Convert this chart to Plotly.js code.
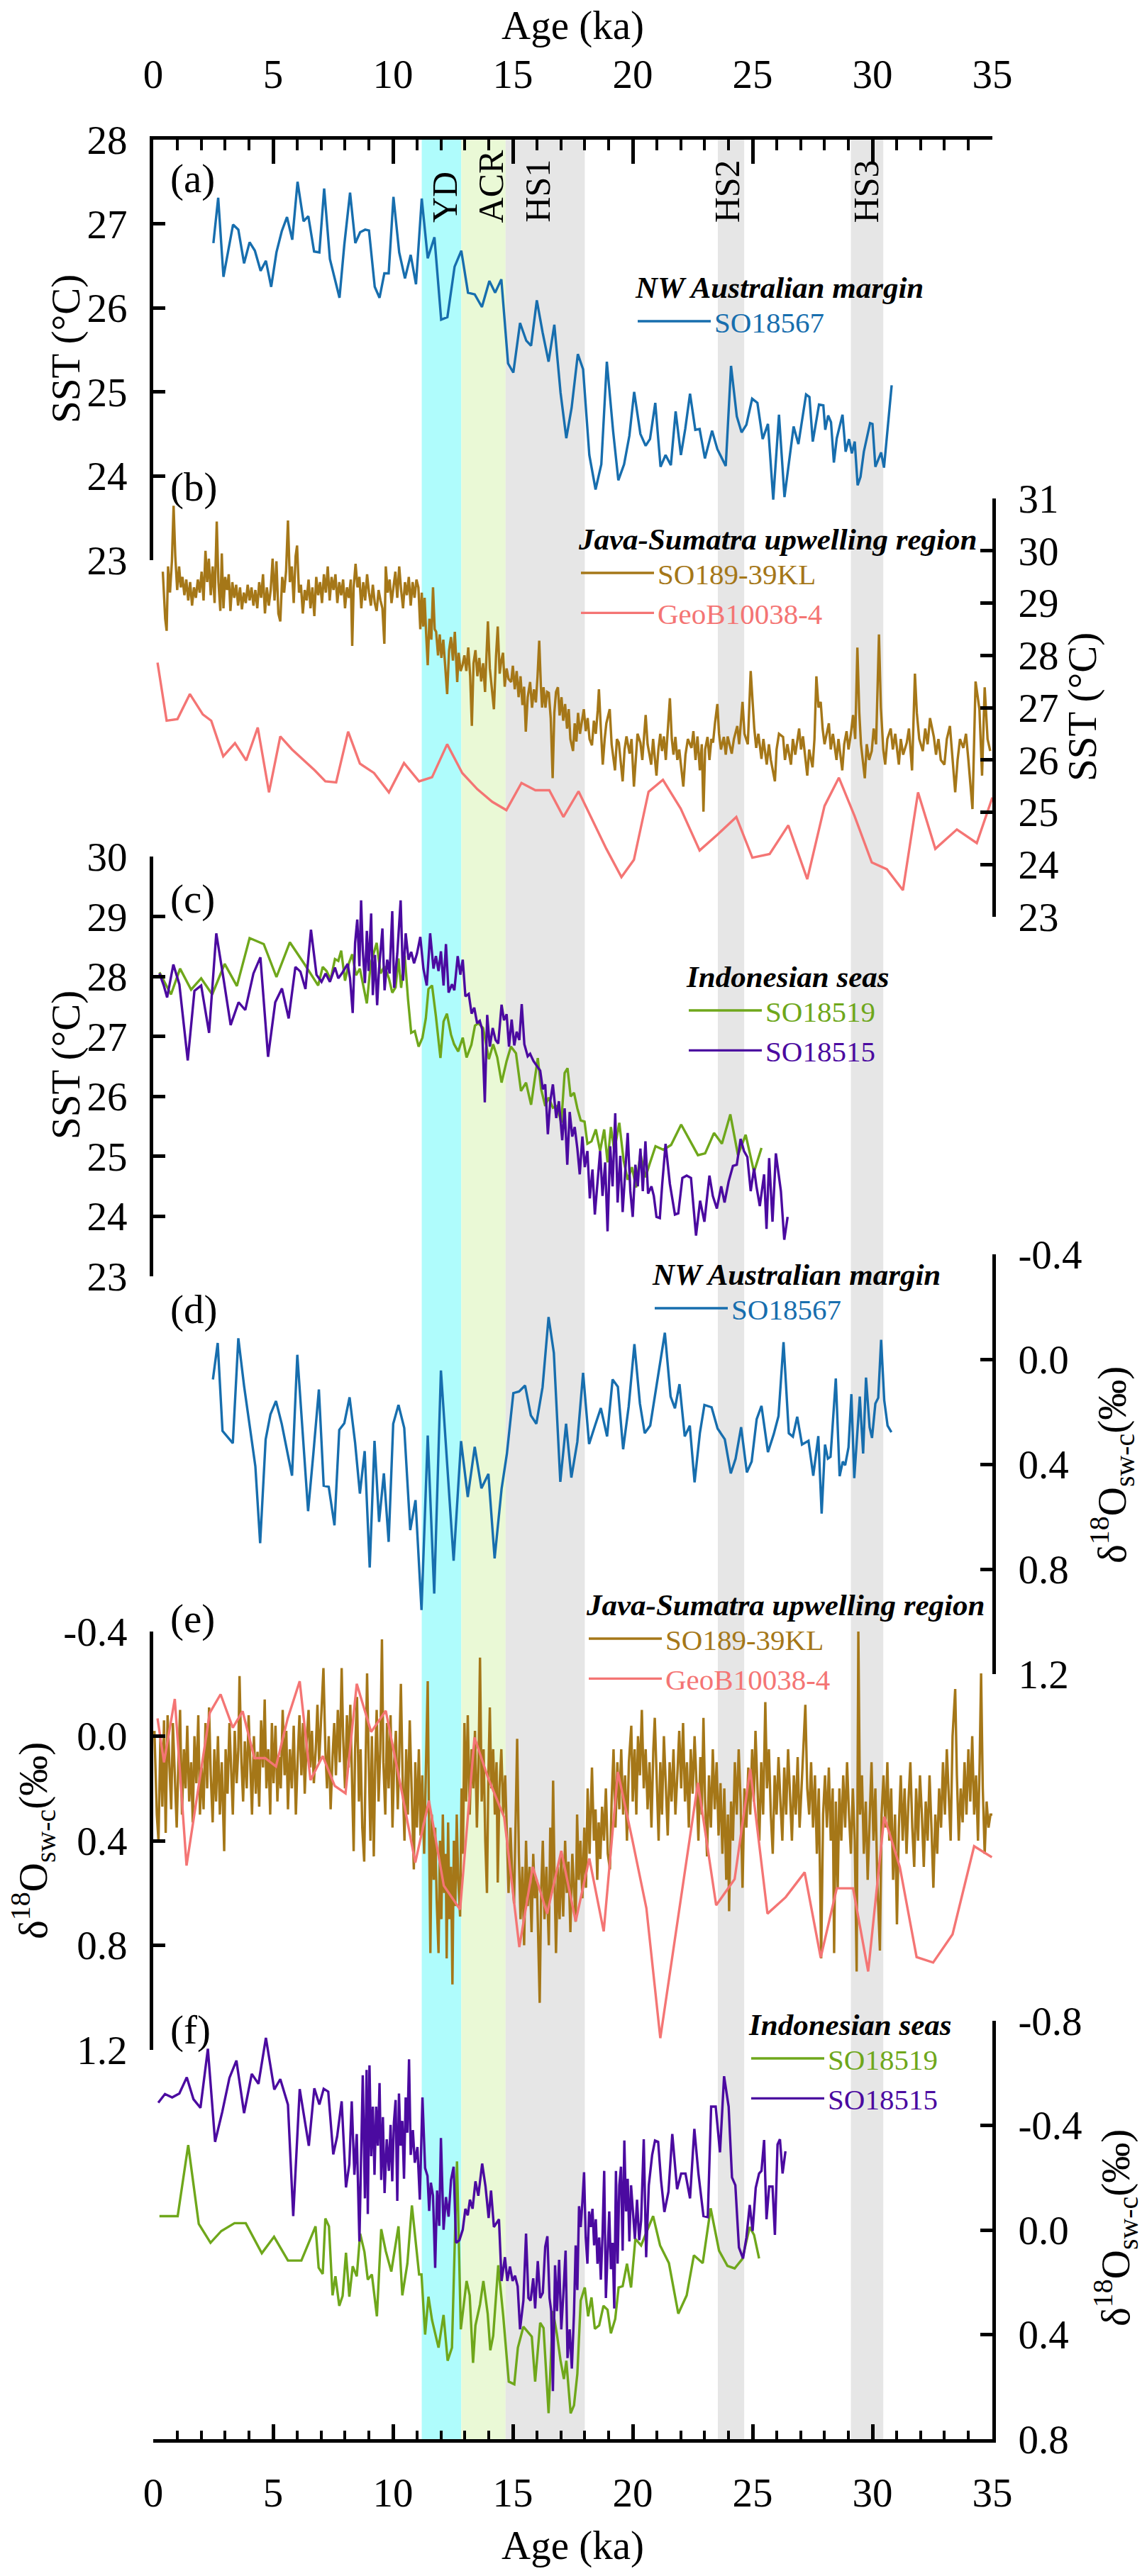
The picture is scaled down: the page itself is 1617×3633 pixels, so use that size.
<!DOCTYPE html>
<html><head><meta charset="utf-8">
<script src="https://cdn.plot.ly/plotly-3.0.1.min.js"></script>
<style>html,body{margin:0;padding:0;background:#fff}#chart{width:1617px;height:3633px}</style>
</head><body><div id="chart"></div>
<script>
// ---------------- DATA ----------------
// Event intervals (ka)
const eventNames = ['YD','ACR','HS1','HS2','HS3'];
const eventStart = [11.2, 12.85, 14.7, 23.55, 29.1];
const eventEnd   = [12.85, 14.7, 18.0, 24.65, 30.45];
const eventLabelAge = [12.16, 14.11, 16.04, 23.96, 29.76];

// (a) SO18567 SST
const a_age = [2.51,2.71,2.93,3.33,3.55,3.79,4.02,4.24,4.48,4.70,4.92,5.14,5.36,5.58,5.80,6.02,6.27,6.47,6.71,6.93,7.13,7.37,7.77,7.97,8.21,8.43,8.63,8.84,9.00,9.24,9.44,9.64,9.82,10.02,10.26,10.50,10.74,10.96,11.20,11.45,11.73,12.01,12.27,12.57,12.85,13.13,13.41,13.71,14.02,14.26,14.52,14.80,15.02,15.30,15.56,15.76,16.00,16.24,16.49,16.73,16.99,17.23,17.45,17.71,17.93,18.19,18.45,18.69,18.92,19.18,19.40,19.64,19.86,20.06,20.32,20.54,20.72,20.94,21.16,21.37,21.59,21.79,22.01,22.19,22.39,22.61,22.79,23.01,23.31,23.53,23.88,24.10,24.34,24.54,24.74,24.98,25.20,25.42,25.64,25.86,26.10,26.33,26.71,26.91,27.23,27.37,27.51,27.77,27.95,28.03,28.15,28.27,28.39,28.51,28.75,28.88,29.02,29.14,29.26,29.38,29.50,29.64,29.90,30.00,30.12,30.36,30.48,30.80];
const a_sst = [26.77,27.31,26.37,26.99,26.93,26.53,26.78,26.68,26.44,26.56,26.25,26.66,26.91,27.08,26.81,27.50,27.03,27.09,26.67,26.66,27.42,26.58,26.12,26.75,27.37,26.77,26.90,26.93,26.92,26.25,26.12,26.41,26.41,27.32,26.66,26.35,26.63,26.28,27.30,26.59,26.84,25.86,25.89,26.49,26.68,26.18,26.16,26.01,26.32,26.18,26.34,25.34,25.23,25.82,25.61,25.55,26.09,25.71,25.36,25.80,24.99,24.45,24.81,25.45,25.27,24.25,23.84,24.14,25.36,24.54,23.95,24.14,24.48,25.00,24.50,24.36,24.44,24.87,24.11,24.25,24.13,24.77,24.25,24.56,24.98,24.55,24.56,24.21,24.54,24.32,24.12,25.31,24.71,24.52,24.61,24.92,24.87,24.44,24.62,23.72,24.73,23.75,24.59,24.38,24.97,24.94,24.41,24.85,24.84,24.55,24.72,24.64,24.16,24.45,24.73,24.29,24.44,24.27,24.41,23.89,23.99,24.29,24.63,24.62,24.11,24.28,24.10,25.08];

// (b) SO189-39KL SST
const b_age = [0.40,0.50,0.56,0.62,0.70,0.78,0.85,0.92,1.00,1.08,
1.15,1.22,1.30,1.38,1.46,1.54,1.62,1.70,1.78,1.86,
1.94,2.02,2.10,2.18,2.25,2.32,2.40,2.48,2.56,2.65,
2.72,2.80,2.86,2.93,3.00,3.08,3.15,3.22,3.30,3.38,
3.46,3.54,3.62,3.70,3.78,3.86,3.94,4.02,4.10,4.18,
4.26,4.34,4.42,4.50,4.58,4.66,4.74,4.82,4.90,4.98,
5.06,5.14,5.22,5.30,5.38,5.46,5.54,5.62,5.70,5.78,
5.86,5.94,6.00,6.08,6.16,6.24,6.32,6.40,6.48,6.56,
6.64,6.72,6.80,6.88,6.96,7.04,7.12,7.20,7.28,7.36,
7.44,7.52,7.60,7.68,7.76,7.84,7.92,8.00,8.08,8.16,
8.24,8.30,8.36,8.44,8.52,8.60,8.68,8.76,8.84,8.92,
9.00,9.08,9.16,9.24,9.32,9.40,9.48,9.56,9.64,9.70,
9.78,9.86,9.94,10.02,10.10,10.18,10.26,10.34,10.42,10.50,
10.58,10.66,10.74,10.82,10.90,10.98,11.06,11.14,11.20,11.26,
11.32,11.38,11.45,11.52,11.60,11.67,11.74,11.80,11.88,11.95,
12.02,12.10,12.18,12.26,12.34,12.42,12.50,12.58,12.68,12.74,
12.82,12.90,12.98,13.06,13.14,13.22,13.29,13.36,13.44,13.52,
13.60,13.68,13.76,13.84,13.90,13.96,14.04,14.12,14.21,14.30,
14.37,14.45,14.52,14.59,14.66,14.74,14.82,14.93,15.00,15.08,
15.16,15.24,15.32,15.40,15.47,15.54,15.62,15.72,15.80,15.88,
15.96,16.03,16.10,16.17,16.22,16.28,16.36,16.43,16.50,16.58,
16.66,16.73,16.80,16.88,16.95,17.03,17.10,17.18,17.26,17.33,
17.40,17.51,17.58,17.65,17.72,17.80,17.88,17.96,18.04,18.12,
18.20,18.30,18.38,18.46,18.54,18.59,18.67,18.75,18.83,18.90,
19.04,19.12,19.26,19.34,19.42,19.50,19.58,19.66,19.74,19.87,
19.95,20.05,20.13,20.20,20.32,20.40,20.54,20.62,20.70,20.77,
20.85,20.99,21.07,21.15,21.22,21.30,21.38,21.47,21.55,21.63,
21.70,21.78,21.86,21.94,22.11,22.20,22.30,22.45,22.53,22.62,
22.70,22.80,22.88,22.95,23.02,23.12,23.20,23.28,23.35,23.43,
23.53,23.60,23.68,23.80,23.88,23.96,24.13,24.22,24.36,24.44,
24.58,24.66,24.80,24.92,25.00,25.07,25.15,25.24,25.37,25.45,
25.59,25.68,25.76,25.93,26.00,26.10,26.27,26.35,26.45,26.60,
26.68,26.78,26.94,27.02,27.10,27.28,27.36,27.50,27.58,27.66,
27.75,27.84,27.92,28.00,28.18,28.26,28.35,28.50,28.58,28.74,
28.82,28.92,29.00,29.10,29.19,29.28,29.37,29.45,29.52,29.68,
29.76,29.86,29.97,30.05,30.15,30.27,30.35,30.45,30.53,30.62,
30.76,30.85,30.95,31.10,31.18,31.28,31.43,31.52,31.65,31.77,
31.85,31.95,32.10,32.20,32.30,32.40,32.56,32.65,32.75,32.85,
33.00,33.10,33.23,33.33,33.45,33.55,33.65,33.79,33.90,34.00,
34.17,34.30,34.46,34.57,34.68,34.80,34.91];
const b_sst = [29.60,28.70,28.47,29.70,29.20,29.80,30.86,29.90,29.25,29.70,
29.30,29.50,29.15,29.45,29.05,29.40,28.95,29.30,29.10,29.45,
29.20,29.60,29.05,30.00,29.40,29.85,29.15,29.70,29.00,30.56,
29.40,28.85,29.95,28.90,29.50,29.25,29.55,28.85,29.40,29.10,
29.35,28.95,29.30,28.88,29.20,29.00,29.35,29.05,29.30,28.95,
29.25,28.90,29.40,29.10,29.55,28.80,29.30,28.95,29.25,29.85,
29.05,29.80,28.80,28.65,29.50,29.20,29.60,30.58,29.40,29.70,
29.00,29.90,30.10,29.20,29.35,28.80,29.25,29.05,29.45,28.90,
29.30,28.75,29.50,29.15,29.40,29.00,29.55,29.20,29.70,29.05,
29.50,29.25,29.55,29.00,29.40,29.15,29.45,28.90,29.30,29.10,
29.45,28.18,29.30,29.75,29.30,29.50,28.90,29.40,29.05,29.55,
29.20,28.95,29.35,29.00,28.85,29.25,29.05,28.90,28.22,29.70,
29.20,29.45,29.00,29.35,29.60,29.10,29.70,29.25,28.90,29.40,
29.15,29.50,28.95,29.40,29.10,29.45,29.30,28.50,29.20,28.55,
29.10,28.45,27.81,28.70,28.30,29.30,28.50,28.45,28.00,28.40,
27.95,28.30,27.80,27.26,28.10,28.35,27.90,28.45,27.49,28.05,
27.70,27.81,28.00,27.70,28.15,27.60,26.65,27.85,28.10,27.60,
27.95,27.50,27.85,27.30,28.00,28.65,27.75,27.40,26.97,28.00,
28.55,27.65,27.90,28.05,27.40,27.75,27.55,27.49,27.80,27.35,
27.70,27.20,27.60,27.05,27.40,26.54,27.20,27.49,27.00,27.35,
27.10,27.60,28.28,27.40,27.00,27.39,27.00,27.30,27.28,26.80,
25.65,26.90,27.30,27.39,26.85,27.20,26.75,27.07,26.60,26.97,
26.40,26.17,26.70,26.35,26.90,26.50,26.75,26.97,26.55,26.80,
26.40,26.28,26.75,26.50,26.95,27.35,26.60,25.91,26.40,26.70,
26.97,26.30,25.80,26.40,26.33,26.00,25.59,26.20,26.45,26.12,
26.40,25.49,26.10,26.50,26.33,26.00,26.86,26.30,26.10,25.91,
26.40,25.70,26.20,26.50,26.17,26.45,26.00,26.60,27.18,26.40,
26.10,26.44,26.00,26.20,25.49,26.10,26.40,26.23,26.55,26.00,
26.45,25.80,26.30,25.01,26.20,26.44,26.00,26.40,26.33,26.70,
27.07,26.50,26.20,26.44,26.10,26.45,26.12,26.40,26.65,26.30,
27.11,26.50,26.30,27.70,27.00,26.60,26.23,26.50,26.02,26.40,
25.91,26.30,26.00,25.59,26.20,26.50,26.44,26.00,26.30,25.91,
26.40,26.10,26.60,26.20,26.45,25.70,26.20,25.86,26.40,27.60,
27.00,27.11,26.60,26.30,26.70,26.20,26.50,26.00,26.40,25.80,
26.30,26.55,26.20,26.50,26.86,26.40,28.15,26.90,26.30,25.65,
26.30,26.00,26.17,26.60,26.30,28.40,27.00,26.20,25.91,26.40,
26.60,26.20,26.50,25.91,26.40,26.10,26.33,26.60,25.80,27.65,
26.90,26.40,26.17,26.60,26.30,26.80,26.44,26.10,26.40,26.00,
25.91,26.40,26.65,26.10,25.38,26.00,26.40,26.23,26.50,26.00,
25.06,27.50,26.97,25.70,27.39,26.40,26.17];

// (b) GeoB10038-4 SST
const bg_age = [0.18,0.56,1.01,1.53,2.07,2.42,2.92,3.41,3.88,4.36,4.83,5.30,5.79,6.29,6.74,7.18,7.63,8.13,8.62,9.21,9.83,10.46,11.09,11.63,12.26,12.89,13.52,14.14,14.73,15.36,15.94,16.52,17.11,17.74,18.30,18.90,19.53,20.05,20.66,21.26,22.00,22.79,23.53,24.32,24.99,25.71,26.49,27.28,28.00,28.60,29.25,29.97,30.60,31.27,31.90,32.62,33.52,34.35,35.00];
const bg_sst = [27.86,26.75,26.78,27.26,26.87,26.75,26.07,26.32,25.99,26.62,25.38,26.45,26.20,25.99,25.80,25.59,25.57,26.54,25.93,25.75,25.38,25.94,25.59,25.67,26.30,25.75,25.44,25.20,25.04,25.56,25.42,25.42,24.91,25.40,24.87,24.30,23.76,24.09,25.39,25.62,25.07,24.27,24.57,24.91,24.13,24.20,24.75,23.72,25.12,25.66,24.93,24.04,23.91,23.51,25.38,24.30,24.67,24.41,25.28];

// (c) SO18519 SST
const c19_age = [0.26,0.74,1.12,1.58,2.00,2.46,2.98,3.49,4.02,4.61,5.14,5.70,6.32,6.88,7.07,7.23,7.40,7.58,7.72,7.84,8.00,8.16,8.30,8.46,8.62,8.77,8.91,9.07,9.32,9.48,9.65,9.83,9.97,10.11,10.23,10.34,10.49,10.63,10.76,10.91,11.07,11.23,11.37,11.48,11.63,11.79,11.98,12.11,12.25,12.42,12.55,12.72,12.91,13.07,13.27,13.42,13.56,13.76,14.00,14.18,14.35,14.53,14.74,14.92,15.13,15.34,15.55,15.76,15.92,16.04,16.18,16.35,16.49,16.67,16.84,17.02,17.16,17.28,17.41,17.55,17.69,17.83,17.99,18.11,18.28,18.46,18.64,18.81,18.95,19.09,19.23,19.44,19.62,19.79,19.97,20.14,20.32,20.53,20.71,20.95,21.28,21.60,22.02,22.72,23.02,23.39,23.72,24.07,24.39,24.71,25.06,25.37];
const c19_sst = [28.07,27.70,28.13,27.78,27.97,27.70,28.21,27.84,28.64,28.54,27.99,28.57,28.20,27.85,28.16,28.09,27.95,28.29,28.26,28.43,27.93,28.22,28.37,28.02,28.13,27.84,27.55,28.21,28.56,28.05,28.17,27.97,27.73,27.82,28.30,27.81,28.35,27.61,27.06,27.09,26.83,26.98,27.30,27.79,27.85,27.34,26.64,27.25,27.38,27.03,26.87,26.75,26.98,26.65,26.86,27.18,27.22,27.14,26.62,26.87,26.65,26.23,26.59,26.83,26.72,26.09,26.23,25.86,26.28,26.64,26.12,25.84,25.98,25.81,25.84,25.56,26.39,26.47,26.00,26.06,25.80,25.60,25.58,25.21,25.25,25.45,25.09,25.45,24.90,25.49,25.09,25.56,24.93,24.61,24.82,24.48,25.05,24.65,24.88,25.17,25.11,25.19,25.53,25.02,25.05,25.39,25.21,25.70,25.02,25.36,24.74,25.14];

// (c) SO18515 SST
const c15_age = [0.26,0.44,0.58,0.84,1.09,1.44,1.72,2.00,2.33,2.63,2.93,3.23,3.56,3.84,4.18,4.47,4.79,5.09,5.37,5.65,5.93,6.14,6.35,6.58,6.81,7.02,7.19,7.37,7.58,7.72,7.90,8.11,8.21,8.32,8.42,8.51,8.60,8.67,8.74,8.83,8.91,8.98,9.09,9.16,9.25,9.34,9.42,9.56,9.65,9.76,9.86,9.97,10.05,10.18,10.32,10.42,10.53,10.65,10.76,10.88,11.00,11.14,11.27,11.41,11.55,11.69,11.79,11.90,12.00,12.11,12.21,12.32,12.46,12.56,12.70,12.81,12.91,13.02,13.16,13.28,13.39,13.51,13.62,13.72,13.83,13.93,14.04,14.16,14.28,14.39,14.53,14.63,14.74,14.84,14.95,15.06,15.16,15.27,15.37,15.48,15.62,15.72,15.86,16.00,16.14,16.25,16.35,16.46,16.56,16.67,16.81,16.92,17.06,17.16,17.27,17.37,17.48,17.58,17.69,17.79,17.90,18.00,18.11,18.21,18.32,18.42,18.53,18.64,18.74,18.85,18.95,19.06,19.16,19.27,19.37,19.48,19.58,19.69,19.79,19.90,20.00,20.11,20.21,20.32,20.42,20.53,20.64,20.78,20.88,20.99,21.13,21.23,21.37,21.55,21.76,21.90,22.07,22.25,22.43,22.64,22.81,22.99,23.20,23.34,23.51,23.69,23.83,24.00,24.18,24.34,24.50,24.64,24.78,24.92,25.06,25.16,25.30,25.48,25.58,25.69,25.83,25.97,26.07,26.18,26.32,26.46];
const c15_sst = [28.05,27.85,27.65,28.20,27.87,26.60,27.76,27.85,27.06,28.72,27.97,27.19,27.57,27.44,28.05,28.32,26.66,27.57,27.80,27.30,28.16,28.08,27.79,28.78,28.03,27.91,28.05,27.91,28.15,27.97,28.07,28.21,27.97,27.39,28.56,28.95,28.17,29.27,28.44,27.89,28.76,28.09,29.05,27.69,28.36,27.52,28.13,28.80,27.77,28.28,28.05,29.09,27.81,28.38,29.27,27.93,28.72,28.28,28.41,28.22,28.38,28.66,28.13,27.85,28.72,28.13,28.34,28.09,28.42,27.85,28.54,27.73,27.87,27.77,28.34,28.03,28.28,27.67,27.71,27.38,27.48,27.22,27.26,27.12,25.90,27.36,26.83,27.14,26.94,26.88,27.53,27.27,27.37,26.83,27.28,26.85,27.08,26.94,27.54,26.87,26.67,26.71,26.59,26.51,26.43,26.12,26.20,25.37,25.92,26.20,25.64,25.92,25.27,25.80,24.86,25.74,25.33,25.49,25.13,24.70,25.33,24.82,25.09,24.30,24.78,24.03,24.62,25.09,24.34,24.90,23.75,25.17,24.50,25.72,24.23,25.01,24.07,24.74,25.39,24.42,23.99,24.86,24.50,25.13,24.42,25.25,24.38,24.50,24.34,23.99,23.97,24.54,25.21,24.54,24.03,24.05,24.64,24.68,24.64,23.68,24.26,23.91,24.68,24.34,24.13,24.50,24.23,24.58,24.84,24.86,25.29,25.09,24.99,24.42,24.80,24.50,24.17,24.70,23.79,24.97,23.91,25.05,24.78,24.42,23.61,23.99];

// (d) SO18567 d18Osw-c
const d_age = [2.49,2.69,2.89,3.32,3.55,3.79,4.04,4.26,4.46,4.69,4.89,5.12,5.36,5.79,6.01,6.22,6.46,6.68,6.91,7.11,7.32,7.56,7.76,7.97,8.19,8.42,8.62,8.82,9.03,9.23,9.42,9.62,9.82,10.01,10.23,10.47,10.72,10.94,11.19,11.45,11.72,12.00,12.25,12.53,12.84,13.12,13.41,13.69,13.98,14.24,14.53,14.75,15.02,15.26,15.51,15.75,15.98,16.24,16.49,16.71,16.98,17.22,17.44,17.69,17.93,18.18,18.42,18.67,18.93,19.16,19.38,19.60,19.83,20.07,20.30,20.50,20.73,21.34,21.58,21.76,21.95,22.17,22.38,22.58,22.80,22.99,23.29,23.54,23.84,24.09,24.29,24.52,24.76,24.96,25.17,25.37,25.64,25.88,26.08,26.29,26.51,26.68,26.86,27.06,27.33,27.53,27.74,27.88,28.02,28.14,28.25,28.47,28.63,28.76,28.86,29.00,29.12,29.24,29.47,29.61,29.73,29.88,29.98,30.12,30.24,30.36,30.49,30.63,30.79];
const d_sw = [0.077,-0.062,0.273,0.320,-0.080,0.102,0.264,0.408,0.701,0.305,0.210,0.159,0.246,0.444,-0.017,0.277,0.579,0.359,0.115,0.482,0.486,0.633,0.269,0.244,0.145,0.318,0.512,0.350,0.794,0.311,0.620,0.435,0.696,0.246,0.174,0.262,0.651,0.537,0.956,0.291,0.893,0.043,0.372,0.768,0.312,0.525,0.334,0.492,0.437,0.759,0.494,0.361,0.129,0.123,0.100,0.214,0.246,0.106,-0.161,-0.024,0.467,0.246,0.451,0.314,0.052,0.323,0.255,0.186,0.294,0.077,0.105,0.343,0.181,-0.058,0.169,0.282,0.253,-0.101,0.142,0.187,0.095,0.294,0.253,0.469,0.282,0.174,0.183,0.264,0.305,0.435,0.379,0.259,0.431,0.390,0.228,0.178,0.354,0.286,0.217,-0.065,0.282,0.295,0.219,0.325,0.311,0.444,0.293,0.588,0.325,0.379,0.372,0.073,0.446,0.390,0.404,0.336,0.133,0.453,0.142,0.359,0.070,0.259,0.300,0.169,0.147,-0.074,0.156,0.253,0.278];

// (e) SO189-39KL d18Osw-c
const e_age = [0.05,0.15,0.22,0.30,0.38,0.45,0.52,0.60,0.68,0.75,
0.82,0.90,0.98,1.05,1.12,1.20,1.28,1.35,1.42,1.50,
1.58,1.65,1.72,1.80,1.88,1.95,2.02,2.10,2.18,2.25,
2.33,2.40,2.48,2.55,2.62,2.70,2.78,2.86,2.96,3.02,
3.10,3.18,3.25,3.32,3.40,3.48,3.55,3.60,3.68,3.75,
3.82,3.90,3.98,4.05,4.12,4.20,4.28,4.35,4.42,4.50,
4.58,4.65,4.72,4.80,4.88,4.95,5.02,5.10,5.18,5.25,
5.32,5.40,5.48,5.55,5.62,5.70,5.78,5.86,5.95,6.02,
6.10,6.18,6.25,6.32,6.40,6.48,6.55,6.62,6.70,6.78,
6.85,6.92,7.00,7.10,7.18,7.25,7.32,7.40,7.48,7.55,
7.62,7.70,7.78,7.86,7.92,8.00,8.08,8.15,8.22,8.30,
8.36,8.42,8.50,8.58,8.65,8.72,8.80,8.86,8.92,9.00,
9.06,9.12,9.20,9.26,9.32,9.40,9.47,9.54,9.60,9.68,
9.75,9.82,9.90,9.98,10.05,10.12,10.20,10.26,10.33,10.40,
10.48,10.55,10.62,10.70,10.78,10.87,10.93,11.00,11.08,11.15,
11.22,11.30,11.38,11.45,11.52,11.56,11.62,11.70,11.76,11.82,
11.90,11.96,12.02,12.08,12.14,12.20,12.24,12.30,12.36,12.42,
12.48,12.54,12.60,12.66,12.72,12.80,12.86,12.92,12.98,13.05,
13.12,13.20,13.28,13.35,13.42,13.50,13.57,13.63,13.70,13.78,
13.85,13.92,13.98,14.04,14.10,14.18,14.25,14.32,14.37,14.44,
14.52,14.60,14.68,14.75,14.82,14.90,14.98,15.05,15.12,15.18,
15.25,15.32,15.40,15.47,15.55,15.62,15.70,15.78,15.85,15.92,
16.00,16.08,16.12,16.18,16.25,16.32,16.40,16.50,16.56,16.62,
16.68,16.74,16.80,16.88,16.95,17.02,17.10,17.18,17.25,17.32,
17.40,17.48,17.55,17.62,17.68,17.75,17.82,17.90,17.98,18.05,
18.12,18.20,18.30,18.38,18.45,18.52,18.58,18.65,18.72,18.80,
18.88,18.96,19.05,19.12,19.20,19.28,19.36,19.44,19.52,19.60,
19.68,19.76,19.84,19.94,20.00,20.08,20.15,20.22,20.30,20.38,
20.46,20.54,20.62,20.70,20.78,20.86,20.92,21.00,21.08,21.15,
21.22,21.30,21.38,21.46,21.54,21.62,21.70,21.78,21.86,21.94,
22.02,22.10,22.18,22.26,22.34,22.42,22.50,22.58,22.66,22.74,
22.82,22.88,22.95,23.02,23.10,23.18,23.26,23.34,23.42,23.50,
23.58,23.66,23.74,23.82,23.90,23.97,24.02,24.10,24.18,24.26,
24.34,24.42,24.50,24.58,24.66,24.74,24.82,24.90,24.98,25.05,
25.12,25.20,25.28,25.36,25.44,25.53,25.60,25.68,25.76,25.84,
25.92,26.00,26.08,26.16,26.24,26.32,26.40,26.48,26.56,26.64,
26.72,26.80,26.88,26.96,27.04,27.12,27.20,27.28,27.36,27.44,
27.52,27.60,27.68,27.76,27.86,27.94,28.02,28.10,28.18,28.26,
28.34,28.40,28.47,28.55,28.62,28.70,28.78,28.86,28.94,29.02,
29.10,29.18,29.26,29.34,29.41,29.48,29.56,29.64,29.72,29.80,
29.88,29.96,30.04,30.12,30.20,30.31,30.38,30.46,30.54,30.62,
30.70,30.78,30.86,30.94,31.02,31.10,31.18,31.26,31.34,31.42,
31.50,31.58,31.66,31.74,31.82,31.90,31.98,32.06,32.14,32.22,
32.30,32.38,32.46,32.54,32.62,32.70,32.78,32.86,32.94,33.02,
33.10,33.18,33.26,33.34,33.45,33.52,33.60,33.68,33.76,33.84,
33.92,34.00,34.08,34.16,34.24,34.32,34.40,34.47,34.53,34.60,
34.68,34.76,34.84,34.92,35.00];
const e_sw = [-0.02,0.30,0.40,0.00,0.27,-0.06,0.37,-0.08,0.12,0.28,
-0.05,0.18,0.35,0.10,-0.10,0.30,0.05,0.20,-0.04,0.25,
0.10,0.33,0.00,0.18,-0.08,0.30,0.12,0.28,-0.05,0.20,
-0.11,0.15,0.33,0.05,0.25,0.00,0.30,0.10,0.44,0.05,
0.22,-0.05,0.15,0.30,-0.02,0.18,0.05,-0.23,0.10,0.25,
0.02,0.20,-0.08,0.15,0.30,0.00,0.22,0.06,0.27,-0.06,
0.12,-0.14,0.20,0.05,0.30,-0.05,0.18,-0.04,0.25,0.08,
0.20,-0.10,0.15,-0.02,0.28,0.05,0.20,-0.04,0.30,0.10,
-0.08,0.15,-0.05,0.22,0.02,-0.10,0.12,-0.02,0.18,0.05,
-0.12,0.10,-0.05,-0.26,0.05,0.20,0.00,0.28,0.08,-0.05,
0.15,-0.10,0.10,-0.26,0.00,0.20,-0.08,0.12,-0.12,0.20,
0.44,0.05,-0.15,0.25,0.05,0.35,0.48,0.10,-0.24,0.15,
0.40,0.00,0.46,0.10,-0.10,0.25,0.05,-0.37,0.10,0.30,
-0.05,0.20,-0.08,0.35,0.10,-0.02,0.28,0.08,-0.20,0.15,
0.40,0.05,0.30,-0.06,0.25,0.51,0.10,0.35,0.05,0.38,
0.15,0.45,0.10,-0.21,0.50,0.83,0.30,0.55,0.35,0.62,
0.83,0.40,0.70,0.30,0.60,0.45,0.85,0.33,0.70,0.50,
0.95,0.40,0.65,0.30,0.55,0.69,0.20,0.45,-0.05,0.25,
-0.08,0.30,0.05,0.20,-0.02,0.35,0.10,-0.30,0.25,0.05,
0.40,0.60,0.15,-0.11,0.20,0.05,0.30,0.10,0.56,0.20,
0.05,0.30,0.15,0.40,0.60,0.35,0.55,0.64,0.30,0.01,
0.45,0.70,0.50,0.80,0.40,0.65,0.50,0.75,0.45,0.62,
0.55,0.90,1.02,0.60,0.40,0.70,0.50,0.80,0.35,0.60,
0.17,0.55,0.83,0.50,0.70,0.45,0.69,0.40,0.60,0.48,
0.75,0.45,0.60,0.71,0.30,0.55,0.40,0.62,0.35,0.58,
0.20,0.45,0.12,0.40,0.28,0.55,0.33,0.47,0.27,0.40,
0.20,0.45,0.51,0.25,0.05,0.35,0.10,0.28,0.05,0.30,
0.15,0.40,0.10,-0.04,0.25,0.05,0.30,0.00,0.15,-0.10,
0.20,0.05,0.28,0.10,0.35,0.05,-0.07,0.20,0.40,0.10,
0.30,0.00,0.20,0.38,0.10,0.25,0.05,0.30,0.15,-0.02,
0.20,-0.05,0.25,0.10,0.35,0.05,0.22,0.00,0.18,0.40,
0.08,0.30,-0.07,0.25,0.46,0.15,0.35,0.05,0.28,0.10,
0.38,0.18,0.45,0.20,0.55,0.30,0.67,0.25,0.40,0.10,
0.30,0.05,0.25,0.58,0.20,0.35,0.12,0.30,0.05,0.25,
-0.02,0.22,0.40,0.10,0.30,-0.13,0.20,0.05,0.30,0.45,
0.15,0.30,0.08,0.25,0.40,0.12,0.30,0.05,0.22,0.40,
0.15,0.30,0.08,0.35,0.20,0.05,-0.12,0.20,0.30,0.10,
0.35,0.15,0.45,0.20,0.85,0.30,0.15,0.35,0.12,0.40,
0.20,0.83,0.25,0.58,0.20,0.40,0.15,0.35,0.10,0.30,
0.45,0.20,0.40,0.90,-0.40,0.30,0.15,0.45,0.25,0.55,
0.30,0.10,0.40,0.20,0.55,0.82,0.30,0.15,0.35,0.10,
0.40,0.20,0.55,0.30,0.72,0.35,0.15,0.40,0.20,0.45,
0.25,0.10,0.35,0.50,0.20,0.40,0.15,0.30,0.50,0.25,
0.40,0.15,0.35,0.58,0.30,0.45,0.20,0.35,0.10,0.30,
0.05,0.25,0.40,0.00,-0.18,0.15,0.40,0.20,0.33,0.10,
0.30,0.05,0.25,0.00,0.30,0.15,0.40,0.10,-0.24,0.20,
0.45,0.25,0.35,0.30,0.30];

// (e) GeoB10038-4 d18Osw-c
const eg_age = [0.18,0.45,0.90,1.39,2.36,2.81,3.32,3.73,4.22,4.67,5.12,5.61,6.11,6.56,7.07,7.57,8.02,8.49,9.09,9.70,10.33,10.93,11.50,12.12,12.80,13.40,13.96,14.64,15.27,15.83,16.43,17.02,17.62,18.19,18.79,19.38,19.98,20.57,21.15,22.72,23.48,24.25,24.90,25.62,26.38,27.17,27.84,28.51,29.19,29.82,30.49,31.14,31.84,32.53,33.34,34.24,34.98];
const eg_sw = [-0.068,0.10,-0.142,0.495,-0.089,-0.160,-0.032,-0.095,0.084,0.084,0.116,-0.068,-0.21,0.168,0.076,0.19,0.219,-0.20,-0.016,-0.097,0.195,0.484,0.247,0.572,0.663,0.005,0.158,0.311,0.807,0.50,0.679,0.439,0.708,0.468,0.747,0.137,0.395,0.658,1.155,0.179,0.647,0.547,0.126,0.679,0.616,0.521,0.847,0.582,0.582,0.90,0.308,0.50,0.845,0.866,0.758,0.421,0.463];

// (f) SO18519 d18Osw-c
const f19_age = [0.26,1.02,1.46,1.90,2.39,2.84,3.39,3.86,4.53,5.04,5.62,6.18,6.77,6.90,7.07,7.18,7.33,7.48,7.60,7.76,7.90,8.04,8.18,8.32,8.49,8.63,8.81,8.95,9.12,9.33,9.51,9.70,9.93,10.23,10.39,10.60,10.79,10.97,11.09,11.19,11.34,11.48,11.63,11.90,12.11,12.28,12.46,12.67,12.83,13.07,13.20,13.34,13.44,13.63,13.77,13.95,14.06,14.18,14.39,14.60,14.83,15.06,15.21,15.44,15.79,15.93,16.14,16.28,16.49,16.67,16.84,16.99,17.13,17.23,17.41,17.55,17.69,17.83,18.00,18.14,18.28,18.42,18.60,18.78,18.95,19.09,19.27,19.41,19.58,19.76,19.93,20.11,20.35,20.85,21.14,21.51,21.90,22.25,22.55,22.92,23.25,23.60,23.95,24.25,24.57,24.88,25.06,25.27];
const f19_sw = [-0.053,-0.053,-0.325,-0.023,0.049,0.004,-0.026,-0.026,0.089,0.026,0.117,0.117,-0.014,0.144,0.168,-0.044,-0.014,0.250,0.177,0.290,0.252,0.087,0.255,0.139,0.177,0.014,0.084,0.190,0.170,0.330,-0.003,0.081,0.159,-0.014,0.250,0.129,-0.094,0.079,0.170,0.170,0.400,0.255,0.345,0.450,0.325,0.500,0.450,-0.262,0.380,0.195,0.250,0.508,0.365,0.285,0.195,0.320,0.460,0.405,0.135,0.330,0.580,0.590,0.450,0.370,0.408,0.580,0.355,0.375,0.701,0.310,0.400,0.500,0.570,0.500,0.701,0.671,0.550,0.270,0.220,0.330,0.258,0.378,0.365,0.290,0.305,0.395,0.340,0.220,0.215,0.129,0.220,0.034,0.059,-0.053,0.059,0.127,0.320,0.250,0.097,0.127,-0.083,0.079,0.137,0.147,0.111,-0.011,0.019,0.109];

// (f) SO18515 d18Osw-c
const f15_age = [0.21,0.49,0.79,1.09,1.40,1.68,1.97,2.28,2.58,2.88,3.18,3.47,3.79,4.11,4.39,4.70,5.05,5.30,5.62,5.84,6.11,6.49,6.72,6.93,7.11,7.30,7.51,7.67,7.86,8.04,8.18,8.28,8.39,8.49,8.60,8.67,8.74,8.83,8.90,8.95,9.02,9.09,9.16,9.23,9.30,9.37,9.44,9.51,9.58,9.65,9.74,9.83,9.90,9.97,10.04,10.11,10.18,10.25,10.32,10.39,10.46,10.53,10.60,10.67,10.74,10.83,10.91,11.02,11.12,11.23,11.34,11.44,11.51,11.58,11.67,11.76,11.84,11.93,12.00,12.11,12.21,12.32,12.42,12.53,12.63,12.77,12.91,13.02,13.12,13.21,13.32,13.44,13.56,13.72,13.86,13.99,14.09,14.21,14.35,14.42,14.53,14.67,14.77,14.88,14.99,15.09,15.20,15.30,15.44,15.55,15.65,15.74,15.85,15.93,16.04,16.14,16.25,16.35,16.44,16.53,16.60,16.67,16.76,16.84,16.93,17.02,17.11,17.20,17.28,17.37,17.46,17.55,17.62,17.69,17.76,17.83,17.90,17.97,18.04,18.11,18.18,18.25,18.32,18.39,18.46,18.53,18.60,18.67,18.74,18.81,18.88,18.95,19.02,19.09,19.16,19.23,19.30,19.37,19.44,19.51,19.58,19.65,19.72,19.79,19.86,19.93,20.00,20.09,20.18,20.27,20.35,20.46,20.56,20.67,20.81,20.93,21.06,21.18,21.32,21.49,21.65,21.85,22.02,22.20,22.39,22.57,22.74,22.95,23.13,23.27,23.46,23.64,23.81,24.00,24.14,24.28,24.43,24.60,24.74,24.88,25.00,25.13,25.27,25.37,25.48,25.58,25.69,25.83,25.93,26.04,26.14,26.25,26.37];
const f15_sw = [-0.487,-0.520,-0.507,-0.522,-0.584,-0.500,-0.467,-0.693,-0.337,-0.452,-0.582,-0.648,-0.447,-0.597,-0.559,-0.735,-0.537,-0.577,-0.479,-0.053,-0.539,-0.322,-0.542,-0.480,-0.540,-0.529,-0.289,-0.357,-0.492,-0.163,-0.251,-0.492,-0.211,-0.367,0.044,-0.251,-0.592,-0.121,-0.612,-0.061,-0.630,-0.282,-0.472,-0.211,-0.472,-0.322,-0.562,-0.191,-0.432,-0.141,-0.347,-0.226,-0.402,-0.186,-0.412,-0.497,-0.111,-0.522,-0.322,-0.417,-0.196,-0.507,-0.372,-0.653,-0.287,-0.382,-0.257,-0.317,-0.116,-0.507,-0.237,-0.207,-0.073,-0.181,-0.131,0.145,-0.151,-0.016,-0.352,-0.001,-0.126,-0.051,-0.191,-0.242,0.049,0.039,-0.001,-0.081,-0.056,-0.116,-0.081,-0.186,-0.131,-0.254,-0.166,-0.046,-0.151,-0.011,-0.031,-0.041,0.195,0.104,0.195,0.140,0.195,0.175,0.215,0.380,0.270,0.014,0.260,0.270,0.185,0.300,0.119,0.260,0.240,0.064,0.024,0.260,0.310,0.616,0.135,0.310,0.114,0.380,0.240,0.079,0.490,0.380,0.530,0.320,0.059,0.230,-0.091,-0.011,-0.106,-0.221,0.029,0.129,-0.071,-0.011,-0.081,0.059,-0.041,0.129,0.029,0.190,0.019,-0.226,0.260,0.089,-0.071,0.150,0.049,0.300,-0.226,0.129,-0.171,-0.242,0.079,-0.342,-0.071,-0.196,0.044,-0.171,-0.091,0.034,-0.116,0.039,-0.036,-0.347,0.104,-0.171,-0.287,-0.342,-0.337,-0.191,-0.069,-0.146,-0.367,-0.156,-0.216,-0.216,-0.121,-0.387,-0.216,-0.053,-0.049,-0.472,-0.472,-0.297,-0.588,-0.472,-0.201,-0.171,0.067,0.109,0.029,-0.096,0.004,-0.161,-0.216,-0.226,-0.344,-0.041,-0.166,-0.166,0.019,-0.327,-0.347,-0.216,-0.301];

// Tick labels
const ageTicks = [0,5,10,15,20,25,30,35];
const sstTicksA = [23,24,25,26,27,28];
const sstTicksB = [23,24,25,26,27,28,29,30,31];
const sstTicksC = [23,24,25,26,27,28,29,30];
const swTicksDE = [-0.4,0,0.4,0.8,1.2];
const swTextDE = ['-0.4','0.0','0.4','0.8','1.2'];
const swTicksF = [-0.8,-0.4,0,0.4,0.8];
const swTextF = ['-0.8','-0.4','0.0','0.4','0.8'];

// ---------------- STYLE / LAYOUT ----------------
const W = 1617, H = 3633;
const px = v => v / W;
const py = v => 1 - v / H;
const FONT = '"Liberation Serif", "Times New Roman", Times, serif';
const C = {blue:'#176EAE', brown:'#A57718', salmon:'#F47574', green:'#6FA71B', purple:'#4B0AA0'};
const X0 = 216, X1 = 1399, YTOP = 197, YBOT = 3440;

function yax(top, bot, range, side, vals, text) {
  return {
    domain: [py(bot), py(top)], range: range, side: side, anchor: 'x',
    showline: true, linewidth: 5, linecolor: '#000', mirror: false,
    ticks: 'inside', ticklen: 17, tickwidth: 5, tickcolor: '#000',
    tickmode: 'array', tickvals: vals, ticktext: text || vals.map(String),
    ticklabelstandoff: 20,
    tickfont: {family: FONT, size: 57, color: '#000'},
    showgrid: false, zeroline: false, fixedrange: true
  };
}
function xax(extra) {
  return Object.assign({
    domain: [px(X0), px(X1)], range: [0, 35], showline: true, linewidth: 5, linecolor: '#000',
    ticks: 'inside', tickwidth: 5, tickcolor: '#000', tickmode: 'array', tickvals: ageTicks, ticktext: ageTicks.map(String),
    tickfont: {family: FONT, size: 57, color: '#000'},
    showgrid: false, zeroline: false, fixedrange: true
  }, extra);
}

const legFont = {family: FONT, size: 41, color: '#000'};
const legTitleFont = {family: FONT, size: 43, color: '#000'};
function leg(left, titleCenter, title) {
  return {x: px(left - 8), y: py(titleCenter - 40), xanchor: 'left', yanchor: 'top',
    bgcolor: 'rgba(0,0,0,0)', borderwidth: 0, font: legFont, itemwidth: 103,
    title: {text: '<b><i>' + title + '</i></b>', font: legTitleFont, side: 'top'}, traceorder: 'normal', tracegroupgap: 0};
}
const span = (c, t) => '<span style="color:' + c + '">' + t + '</span>';

function line(x, y, yaxis, color, name, legend) {
  return {type: 'scatter', mode: 'lines', x: x, y: y, xaxis: 'x', yaxis: yaxis,
    line: {color: color, width: 3.4}, name: span(color, name), legend: legend, showlegend: true, hoverinfo: 'skip'};
}

const traces = [
  line(a_age, a_sst, 'y', C.blue, 'SO18567', 'legend'),
  line(b_age, b_sst, 'y2', C.brown, 'SO189-39KL', 'legend2'),
  line(bg_age, bg_sst, 'y2', C.salmon, 'GeoB10038-4', 'legend2'),
  line(c19_age, c19_sst, 'y3', C.green, 'SO18519', 'legend3'),
  line(c15_age, c15_sst, 'y3', C.purple, 'SO18515', 'legend3'),
  line(d_age, d_sw, 'y4', C.blue, 'SO18567', 'legend4'),
  line(e_age, e_sw, 'y5', C.brown, 'SO189-39KL', 'legend5'),
  line(eg_age, eg_sw, 'y5', C.salmon, 'GeoB10038-4', 'legend5'),
  line(f19_age, f19_sw, 'y6', C.green, 'SO18519', 'legend6'),
  line(f15_age, f15_sw, 'y6', C.purple, 'SO18515', 'legend6'),
  // empty trace so that the top age axis (xaxis2) is drawn
  {type: 'scatter', mode: 'lines', x: [], y: [], xaxis: 'x2', yaxis: 'y', showlegend: false, hoverinfo: 'skip'}
];

const bandColors = ['#AFFCFC', '#EAF9D6', '#E6E6E6', '#E6E6E6', '#E6E6E6'];
const shapes = eventStart.map((s, i) => ({
  type: 'rect', xref: 'x', yref: 'paper', x0: s, x1: eventEnd[i], y0: py(YBOT), y1: py(YTOP),
  fillcolor: bandColors[i], line: {width: 0}, layer: 'below'
}));

const T = (text, x, y, o) => Object.assign({text: text, x: x, y: y, xref: 'paper', yref: 'paper',
  showarrow: false, xanchor: 'center', yanchor: 'middle', font: {family: FONT, size: 57, color: '#000'}}, o || {});
const sstTitle = 'SST (°C)';
const swTitle = 'δ<sup>18</sup>O<sub>sw-c</sub>(‰)';
const annotations = [
  T('Age (ka)', px(807), py(36)),
  T('Age (ka)', px(807), py(3590)),
  T(sstTitle, px(93), py(492), {textangle: -90}),
  T(sstTitle, px(1526), py(997), {textangle: -90}),
  T(sstTitle, px(93), py(1502), {textangle: -90}),
  T(swTitle, px(1567), py(2066), {textangle: -90}),
  T(swTitle, px(46), py(2596), {textangle: -90}),
  T(swTitle, px(1572), py(3142), {textangle: -90}),
  T('(a)', px(238), py(252), {xanchor: 'left'}),
  T('(b)', px(238), py(687), {xanchor: 'left'}),
  T('(c)', px(238), py(1268), {xanchor: 'left'}),
  T('(d)', px(238), py(1847), {xanchor: 'left'}),
  T('(e)', px(238), py(2283), {xanchor: 'left'}),
  T('(f)', px(238), py(2863), {xanchor: 'left'})
];
eventNames.forEach((n, i) => annotations.push(T(n, eventLabelAge[i], py(316),
  {xref: 'x', yanchor: 'bottom', textangle: -90, font: {family: FONT, size: 50, color: '#000'}})));

const layout = {
  width: W, height: H, autosize: false,
  margin: {l: 0, r: 0, t: 0, b: 0, pad: 0},
  paper_bgcolor: '#fff', plot_bgcolor: 'rgba(0,0,0,0)',
  showlegend: true,
  font: {family: FONT, color: '#000'},
  xaxis: xax({anchor: 'y6', side: 'bottom', ticklen: 21, ticklabelstandoff: 22,
    minor: {dtick: 1, tick0: 0, ticks: 'inside', ticklen: 12, tickwidth: 4, tickcolor: '#000'}}),
  xaxis2: xax({anchor: 'y', side: 'top', overlaying: 'x', ticklen: 34, ticklabelstandoff: 45,
    minor: {dtick: 1, tick0: 0, ticks: 'inside', ticklen: 15, tickwidth: 4, tickcolor: '#000'}}),
  yaxis: yax(197, 790, [23, 28], 'left', sstTicksA),
  yaxis2: yax(703, 1293, [23, 31], 'right', sstTicksB),
  yaxis3: yax(1208, 1800, [23, 30], 'left', sstTicksC),
  yaxis4: yax(1769, 2361, [1.2, -0.4], 'right', swTicksDE, swTextDE),
  yaxis5: yax(2301, 2891, [1.2, -0.4], 'left', swTicksDE, swTextDE),
  yaxis6: yax(2850, 3440, [0.8, -0.8], 'right', swTicksF, swTextF),
  legend: leg(902, 404, 'NW Australian margin'),
  legend2: leg(822, 759, 'Java-Sumatra upwelling region'),
  legend3: leg(974, 1376, 'Indonesian seas'),
  legend4: leg(926, 1796, 'NW Australian margin'),
  legend5: leg(833, 2262, 'Java-Sumatra upwelling region'),
  legend6: leg(1062, 2854, 'Indonesian seas'),
  shapes: shapes,
  annotations: annotations
};

Plotly.newPlot('chart', traces, layout, {staticPlot: true, displayModeBar: false, responsive: false});
</script>
</body></html>
